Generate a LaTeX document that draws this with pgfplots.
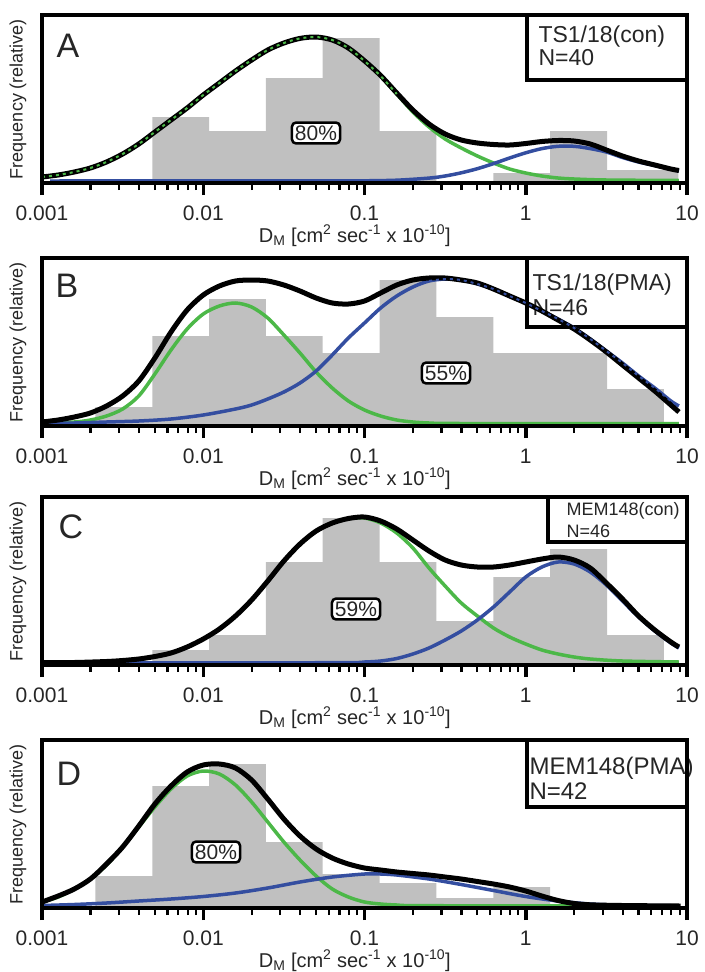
\documentclass[border=0pt]{standalone}
\usepackage{fontspec}
\setmainfont{Liberation Sans}
\usepackage{pgfplots}
\pgfplotsset{compat=1.18}
\definecolor{bargray}{RGB}{192,192,192}
\definecolor{fitgreen}{RGB}{76,184,72}
\definecolor{fitblue}{RGB}{52,78,160}
\newcommand{\legfont}{\fontsize{23bp}{26bp}\selectfont}
\newcommand{\legfontD}{\fontsize{24bp}{27bp}\selectfont}
\newcommand{\legfontsmall}{\fontsize{18bp}{21bp}\selectfont}
\newcommand{\letfont}{\fontsize{34bp}{40bp}\selectfont}
\newcommand{\pctfont}{\fontsize{21bp}{24bp}\selectfont}
\pgfplotsset{panel/.style={
  anchor=south west, scale only axis, width=645bp, height=168bp,
  xmin=-3, xmax=1, ymin=-2, ymax=166,
  axis on top,
  axis line style={line width=4.5bp, black},
  xtick={-3,-2,-1,0,1}, xticklabels={0.001,0.01,0.1,1,10},
  minor xtick={-2.69897,-2.52288,-2.39794,-2.30103,-2.22185,-2.15490,-2.09691,-2.04576,
               -1.69897,-1.52288,-1.39794,-1.30103,-1.22185,-1.15490,-1.09691,-1.04576,
               -0.69897,-0.52288,-0.39794,-0.30103,-0.22185,-0.15490,-0.09691,-0.04576,
               0.30103,0.47712,0.60206,0.69897,0.77815,0.84510,0.90309,0.95424},
  ytick=\empty,
  xtick pos=bottom, tick align=outside,
  major tick length=12bp, minor tick length=7bp,
  major tick style={line width=3.5bp, black},
  minor tick style={line width=2.2bp, black},
  /pgf/number format/assume math mode=true,
  xticklabel style={font=\fontsize{21bp}{24bp}\selectfont, text=black!85, inner sep=0pt, yshift=-11bp},
  xlabel={D\textsubscript{M} [cm\textsuperscript{2} sec\textsuperscript{-1} x 10\textsuperscript{-10}]},
  ylabel={Frequency (relative)},
  xlabel style={font=\fontsize{20bp}{22bp}\selectfont, text=black!85, inner sep=0pt, at={(axis description cs:0.485,-0.315)}, anchor=center},
  ylabel style={font=\fontsize{18bp}{22bp}\selectfont, text=black!85, inner sep=0pt, at={(axis description cs:-0.0372,0.5)}, anchor=center},
  bars/.style={ybar interval, fill=bargray, draw=none},
  gcurve/.style={fitgreen, line width=3.5bp, smooth},
  bcurve/.style={fitblue, line width=3.5bp, smooth},
  kcurve/.style={black, line width=5bp, smooth},
}}
\begin{document}
\begin{tikzpicture}
\path[use as bounding box] (0,0) rectangle (705bp,-972bp);
% legend boxes (drawn first, curves may cross them)
\draw[line width=4bp, fill=white] (527bp,-15bp) rectangle (687bp,-80bp);
\node[anchor=base west, font=\legfont, text=black!85] at (535bp,-42bp) {TS1/18(con)};
\node[anchor=base west, font=\legfont, text=black!85] at (535bp,-65bp) {N=40};
\draw[line width=4bp, fill=white] (527bp,-258bp) rectangle (687bp,-327bp);
\node[anchor=base west, font=\legfont, text=black!85] at (529bp,-290bp) {TS1/18(PMA)};
\node[anchor=base west, font=\legfont, text=black!85] at (529bp,-315bp) {N=46};
\draw[line width=4bp, fill=white] (548bp,-497bp) rectangle (687bp,-542bp);
\node[anchor=base west, font=\legfontsmall, text=black!85] at (563bp,-515bp) {MEM148(con)};
\node[anchor=base west, font=\legfontsmall, text=black!85] at (563bp,-537bp) {N=46};
\draw[line width=4bp, fill=white] (527bp,-740bp) rectangle (687bp,-807bp);
\node[anchor=base west, font=\legfontD, text=black!85] at (526bp,-774bp) {MEM148(PMA)};
\node[anchor=base west, font=\legfontD, text=black!85] at (526bp,-799bp) {N=42};

% ---------------- Panel A ----------------
\begin{axis}[panel, at={(42bp,-183bp)}]
\addplot[bars] coordinates {(-2.316,64) (-1.964,50) (-1.611,103) (-1.259,143) (-0.906,50) (-0.554,0) (-0.201,8) (0.151,50) (0.504,11) (0.947,11)};
\addplot[gcurve] coordinates {(-3.0,4) (-2.9,6) (-2.8,9) (-2.7,13) (-2.6,19) (-2.5,27) (-2.4,37) (-2.3,49) (-2.2,61) (-2.1,73) (-2.0,86) (-1.9,98) (-1.8,110) (-1.7,121) (-1.6,131) (-1.5,138) (-1.4,142.6) (-1.3,144) (-1.2,141) (-1.1,133) (-1.0,120) (-0.9,105) (-0.8,87) (-0.7,69) (-0.6,54) (-0.5,42) (-0.4,33) (-0.3,25) (-0.2,18) (-0.1,12) (0.0,8) (0.1,5) (0.2,3) (0.3,2) (0.5,1) (0.95,0.5)};
\addplot[bcurve] coordinates {(-2.95,0) (-1.2,0.1) (-1.0,0.2) (-0.8,0.8) (-0.6,2.9) (-0.5,5) (-0.4,8.2) (-0.3,12.3) (-0.2,17.4) (-0.1,23) (0.0,28.2) (0.1,32.4) (0.2,34.7) (0.3,34.7) (0.4,32.4) (0.5,29) (0.6,23.5) (0.7,19) (0.8,15.5) (0.9,12) (0.95,10)};
\addplot[kcurve] coordinates {(-3.0,4) (-2.9,6) (-2.8,9) (-2.7,13) (-2.6,19) (-2.5,27) (-2.4,37) (-2.3,49) (-2.2,61) (-2.1,73) (-2.0,86) (-1.9,98) (-1.8,110) (-1.7,121) (-1.6,131) (-1.5,138) (-1.4,142.6) (-1.3,144) (-1.2,141) (-1.1,133) (-1.0,120.2) (-0.9,105.5) (-0.8,88) (-0.7,71) (-0.6,57) (-0.5,47) (-0.4,41) (-0.3,38) (-0.2,36.5) (-0.1,36) (0.0,37.5) (0.1,39.5) (0.2,40.5) (0.3,40) (0.4,37) (0.5,31) (0.6,25) (0.7,20) (0.8,16) (0.9,12) (0.95,10.5)};
\addplot[fitgreen, line width=2bp, smooth, dash pattern=on 3bp off 4bp] coordinates {(-3.0,4) (-2.9,6) (-2.8,9) (-2.7,13) (-2.6,19) (-2.5,27) (-2.4,37) (-2.3,49) (-2.2,61) (-2.1,73) (-2.0,86) (-1.9,98) (-1.8,110) (-1.7,121) (-1.6,131) (-1.5,138) (-1.4,142.6) (-1.3,144) (-1.2,141) (-1.1,133) (-1.0,120) (-0.9,105) (-0.8,87)};
\end{axis}
\node[anchor=base west, font=\letfont, text=black!85] at (53bp,-57bp) {A};
\node[draw=black, line width=2.5bp, rounded corners=4bp, fill=white, inner xsep=3bp, inner ysep=3bp, font=\pctfont, text=black!85] at (316bp,-133bp) {80\%};

% ---------------- Panel B ----------------
\begin{axis}[panel, at={(42bp,-426bp)}]
\addplot[bars] coordinates {(-2.669,17) (-2.316,88) (-1.964,125) (-1.611,88) (-1.259,71) (-0.906,144) (-0.554,107) (-0.201,71) (0.151,71) (0.504,35) (0.856,35)};
\addplot[gcurve] coordinates {(-3.0,0.5) (-2.8,2) (-2.7,4) (-2.6,8) (-2.5,15) (-2.4,28) (-2.3,50) (-2.2,74) (-2.1,95) (-2.0,110) (-1.9,118) (-1.8,121) (-1.7,117) (-1.6,106) (-1.5,89) (-1.4,71) (-1.3,52) (-1.2,36) (-1.1,23) (-1.0,14) (-0.9,8) (-0.8,4) (-0.7,2) (-0.6,1) (-0.4,0.5) (0.95,0.3)};
\addplot[bcurve] coordinates {(-3.0,0.5) (-2.8,1) (-2.6,2) (-2.4,3) (-2.2,5) (-2.0,9) (-1.8,15) (-1.7,19) (-1.6,25) (-1.5,32) (-1.4,41) (-1.3,53) (-1.2,69) (-1.1,86) (-1.0,101) (-0.9,116) (-0.8,128) (-0.7,137) (-0.6,143) (-0.5,145) (-0.4,144) (-0.3,140) (-0.2,135) (-0.1,128) (0.0,121) (0.1,113) (0.2,105) (0.3,96) (0.4,85) (0.5,73) (0.6,61) (0.7,48) (0.8,36) (0.9,23) (0.95,18)};
\addplot[kcurve] coordinates {(-3.0,2) (-2.9,4) (-2.8,7) (-2.7,11) (-2.6,18) (-2.5,28) (-2.4,43) (-2.3,66) (-2.2,92) (-2.1,114) (-2.0,129) (-1.9,138) (-1.8,143) (-1.7,144) (-1.6,143) (-1.5,139) (-1.4,133) (-1.3,126) (-1.2,121) (-1.1,120) (-1.0,123) (-0.9,131) (-0.8,139) (-0.7,144) (-0.6,146) (-0.5,146) (-0.4,144) (-0.3,141) (-0.2,135) (-0.1,128) (0.0,121) (0.1,113) (0.2,104) (0.3,95) (0.4,84) (0.5,72) (0.6,59) (0.7,46) (0.8,33) (0.9,19) (0.95,12)};
\addplot[fitblue, line width=2bp, smooth, dash pattern=on 3bp off 4bp] coordinates {(-0.6,143) (-0.5,145) (-0.4,144) (-0.3,140) (-0.2,135) (-0.1,128) (0.0,121) (0.1,113) (0.2,105) (0.3,96) (0.4,85) (0.5,73) (0.6,61) (0.7,48) (0.8,36) (0.9,23) (0.95,18)};
\end{axis}
\node[anchor=base west, font=\letfont, text=black!85] at (52bp,-297bp) {B};
\node[draw=black, line width=2.5bp, rounded corners=4bp, fill=white, inner xsep=3bp, inner ysep=3bp, font=\pctfont, text=black!85] at (446bp,-373bp) {55\%};

% ---------------- Panel C ----------------
\begin{axis}[panel, at={(42bp,-665bp)}]
\addplot[bars] coordinates {(-2.316,13) (-1.964,28) (-1.611,101) (-1.259,145) (-0.906,101) (-0.554,42) (-0.201,86) (0.151,114) (0.504,28) (0.856,28)};
\addplot[gcurve] coordinates {(-2.95,0) (-2.8,0.5) (-2.6,1.5) (-2.5,2.5) (-2.4,4) (-2.3,6.5) (-2.2,10) (-2.1,16) (-2.0,24) (-1.9,34) (-1.8,47) (-1.7,63) (-1.6,82) (-1.5,102) (-1.4,119) (-1.3,132) (-1.2,140) (-1.1,144.5) (-1.0,145) (-0.9,140) (-0.8,130) (-0.7,115) (-0.6,95) (-0.5,77) (-0.4,60) (-0.3,47) (-0.2,35) (-0.1,26) (0.0,19) (0.1,13) (0.2,9) (0.3,6) (0.4,4) (0.6,2) (0.95,1)};
\addplot[bcurve] coordinates {(-2.9,0) (-1.2,0.3) (-1.0,1) (-0.9,2) (-0.8,4.5) (-0.7,9) (-0.6,15) (-0.5,23) (-0.4,32) (-0.3,43) (-0.2,56) (-0.1,71) (0.0,86) (0.1,96) (0.2,101) (0.3,99) (0.4,91) (0.5,78) (0.6,62) (0.7,46) (0.8,32) (0.9,20) (0.95,15)};
\addplot[kcurve] coordinates {(-3.0,0.3) (-2.8,0.5) (-2.6,1.5) (-2.5,2.5) (-2.4,4) (-2.3,6.5) (-2.2,10) (-2.1,16) (-2.0,24) (-1.9,34) (-1.8,47) (-1.7,63) (-1.6,82) (-1.5,102) (-1.4,119) (-1.3,132) (-1.2,140) (-1.1,144.5) (-1.0,146) (-0.9,142) (-0.8,134) (-0.7,123) (-0.6,112) (-0.5,103) (-0.4,98) (-0.3,96) (-0.2,96) (-0.1,98) (0.0,101) (0.1,104) (0.2,106) (0.3,103) (0.4,95) (0.5,80) (0.6,64) (0.7,47) (0.8,33) (0.9,21) (0.95,16)};
\end{axis}
\node[anchor=base west, font=\letfont, text=black!85] at (55bp,-538bp) {C};
\node[draw=black, line width=2.5bp, rounded corners=4bp, fill=white, inner xsep=3bp, inner ysep=3bp, font=\pctfont, text=black!85] at (356bp,-609bp) {59\%};

% ---------------- Panel D ----------------
\begin{axis}[panel, at={(42bp,-908bp)}]
\addplot[bars] coordinates {(-2.669,30) (-2.316,120) (-1.964,142) (-1.611,64) (-1.259,32) (-0.906,23) (-0.554,8) (-0.201,19) (0.151,19)};
\addplot[gcurve] coordinates {(-3.0,4) (-2.9,9) (-2.8,17) (-2.7,27) (-2.6,41) (-2.5,59) (-2.4,79) (-2.3,99) (-2.2,117) (-2.1,130) (-2.0,135) (-1.9,132) (-1.8,121) (-1.7,104) (-1.6,84) (-1.5,64) (-1.4,46) (-1.3,30) (-1.2,17) (-1.1,9) (-1.0,4) (-0.9,2) (-0.8,1) (-0.6,0.3) (0.95,0)};
\addplot[bcurve] coordinates {(-3.0,0.5) (-2.8,1.5) (-2.6,3) (-2.4,5) (-2.2,7) (-2.0,9.5) (-1.8,13) (-1.6,18) (-1.4,24) (-1.2,29) (-1.0,32) (-0.9,32) (-0.8,31) (-0.6,27) (-0.4,21.5) (-0.2,15.5) (0.0,9.5) (0.2,5) (0.4,2) (0.6,0.8) (0.95,0.2)};
\addplot[kcurve] coordinates {(-3.0,4) (-2.9,10) (-2.8,17) (-2.7,27) (-2.6,42) (-2.5,59) (-2.4,80) (-2.3,102) (-2.2,120) (-2.1,134) (-2.0,141) (-1.9,142) (-1.8,138) (-1.7,126) (-1.6,107) (-1.5,87) (-1.4,70) (-1.3,57) (-1.2,48) (-1.1,42) (-1.0,38) (-0.9,36) (-0.8,34) (-0.7,32.5) (-0.6,31) (-0.5,29) (-0.4,27) (-0.3,24.5) (-0.2,22) (-0.1,19) (0.0,15) (0.1,10) (0.2,5.5) (0.3,2.5) (0.4,1.2) (0.6,0.5) (0.96,0)};
\end{axis}
\node[anchor=base west, font=\letfont, text=black!85] at (53bp,-785bp) {D};
\node[draw=black, line width=2.5bp, rounded corners=4bp, fill=white, inner xsep=3bp, inner ysep=3bp, font=\pctfont, text=black!85] at (216bp,-852bp) {80\%};
\end{tikzpicture}
\end{document}
